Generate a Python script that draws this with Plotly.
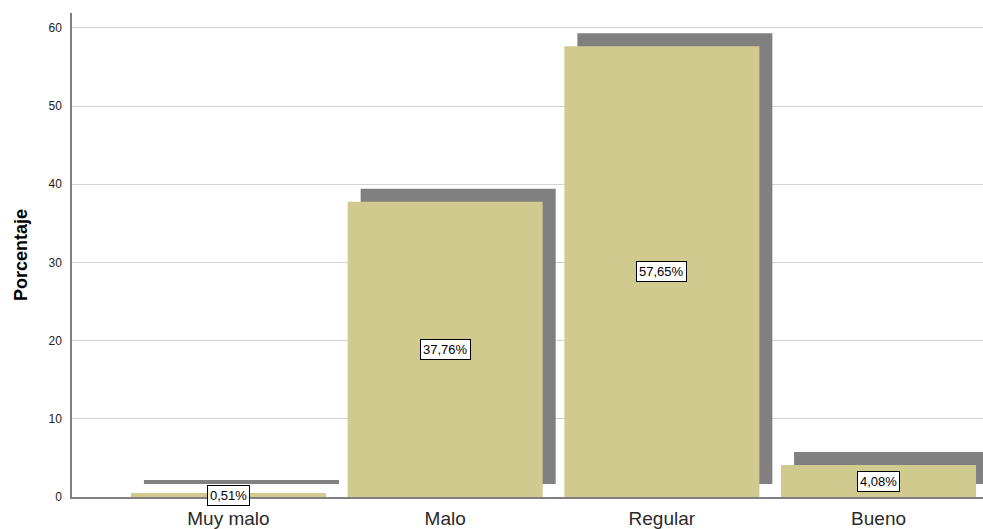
import plotly.graph_objects as go

categories = ["Muy malo", "Malo", "Regular", "Bueno"]
percentages = [0.51, 37.76, 57.65, 4.08]
value_labels = ["0,51%", "37,76%", "57,65%", "4,08%"]
y_ticks = [0, 10, 20, 30, 40, 50, 60]

W, H = 983, 529
margin_l, margin_r, margin_t, margin_b = 72, 0, 13, 32
x_range = [-0.722, 3.482]
y_range = [0, 61.9]

plot_w = W - margin_l - margin_r
plot_h = H - margin_t - margin_b
# drop-shadow offset of 13 px, converted to data units
dx = 13 * (x_range[1] - x_range[0]) / plot_w
dy = 13 * (y_range[1] - y_range[0]) / plot_h

xs = list(range(len(categories)))

fig = go.Figure()

# shadow behind each bar
fig.add_trace(go.Bar(
    x=[x + dx for x in xs],
    y=percentages,
    base=[dy] * len(percentages),
    width=0.9,
    marker=dict(color="#808080", line=dict(width=0)),
    hoverinfo="skip",
    showlegend=False,
))

# main bars
fig.add_trace(go.Bar(
    x=xs,
    y=percentages,
    width=0.9,
    marker=dict(color="#D0CA8E", line=dict(width=0)),
    showlegend=False,
))

for x, v, lab in zip(xs, percentages, value_labels):
    fig.add_annotation(
        x=x, y=v / 2, text=lab, showarrow=False,
        font=dict(family="Arial, Liberation Sans", size=13, color="black"),
        bgcolor="white", bordercolor="black", borderwidth=1, borderpad=2,
    )

fig.update_layout(
    width=W, height=H,
    margin=dict(l=margin_l, r=margin_r, t=margin_t, b=margin_b),
    plot_bgcolor="white", paper_bgcolor="white",
    barmode="overlay",
    xaxis=dict(
        range=x_range,
        tickvals=xs, ticktext=categories,
        tickfont=dict(family="Arial, Liberation Sans", size=19, color="#2a2a2a"),
        showgrid=False, zeroline=False,
        showline=True, linecolor="#808080", linewidth=1.5,
        ticks="", ticklen=0, ticklabelstandoff=3,
    ),
    yaxis=dict(
        range=y_range,
        tickvals=y_ticks,
        tickfont=dict(family="Arial, Liberation Sans", size=12, color="#222222"),
        showgrid=True, gridcolor="#D4D4D4", gridwidth=1.2,
        zeroline=False,
        showline=True, linecolor="#808080", linewidth=1.5,
        ticks="outside", ticklen=6, tickcolor="white",
        title=dict(text="<b>Porcentaje</b>",
                   font=dict(family="Arial, Liberation Sans", size=18, color="black"),
                   standoff=16),
    ),
)

fig.write_html("out.html")
